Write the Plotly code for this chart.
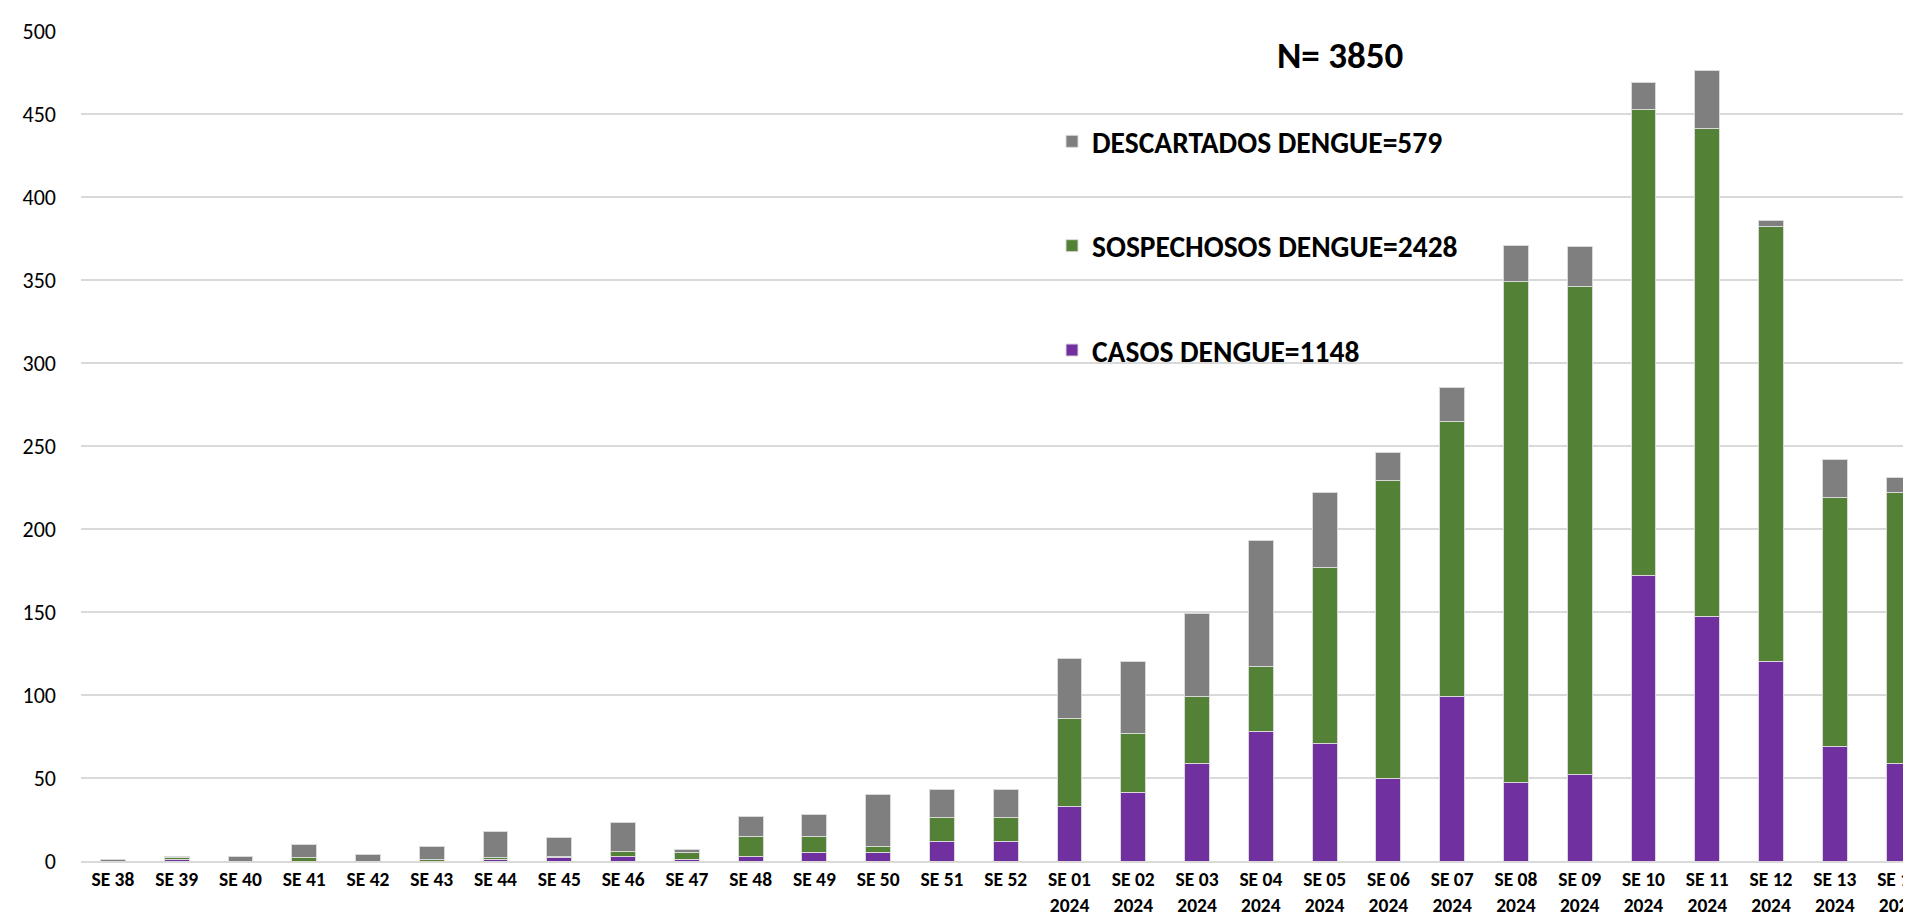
import plotly.graph_objects as go

semanas = ["SE 38", "SE 39", "SE 40", "SE 41", "SE 42", "SE 43", "SE 44", "SE 45",
           "SE 46", "SE 47", "SE 48", "SE 49", "SE 50", "SE 51", "SE 52",
           "SE 01<br>2024", "SE 02<br>2024", "SE 03<br>2024", "SE 04<br>2024",
           "SE 05<br>2024", "SE 06<br>2024", "SE 07<br>2024", "SE 08<br>2024",
           "SE 09<br>2024", "SE 10<br>2024", "SE 11<br>2024", "SE 12<br>2024",
           "SE 13<br>2024", "SE 14<br>2024"]

casos = [0, 1, 0, 0, 0, 0, 1, 2, 3, 1, 3, 5, 5, 12, 12,
         33, 41, 59, 78, 71, 50, 99, 47, 52, 172, 147, 120, 69, 59]
sospechosos = [0, 1, 0, 2, 0, 1, 1, 1, 3, 4, 12, 10, 4, 14, 14,
               53, 36, 40, 39, 106, 179, 166, 302, 294, 281, 294, 262, 150, 163]
descartados = [1, 1, 3, 8, 4, 8, 16, 11, 17, 2, 12, 13, 31, 17, 17,
               36, 43, 50, 76, 45, 17, 20, 22, 24, 16, 35, 4, 23, 9]

series_names = ["CASOS DENGUE=1148", "SOSPECHOSOS DENGUE=2428", "DESCARTADOS DENGUE=579"]
series_colors = ["#7030A0", "#538135", "#7F7F7F"]
legend_ranks = [3, 2, 1]
total_label = "N= 3850"

FONT = "Calibri, Carlito, Lato, sans-serif"

# plot area in pixels
L, R, T, B = 73, 0, 23, 61
PW, PH = 1911 - L - R, 914 - T - B

fig = go.Figure()
for i, (name, vals, col) in enumerate(zip(series_names, [casos, sospechosos, descartados], series_colors)):
    fig.add_trace(go.Bar(
        x=semanas, y=vals, name=name, legendgroup=f"g{i}", legendrank=legend_ranks[i],
        marker=dict(color=col, line=dict(color="#D9D9D9", width=1)),
    ))

fig.update_layout(
    width=1911, height=914,
    barmode="stack", bargap=0.61,
    paper_bgcolor="white", plot_bgcolor="white",
    margin=dict(l=L, r=R, t=T, b=B, autoexpand=False),
    font=dict(family=FONT, color="black"),
    showlegend=True,
    legend=dict(
        x=(1044 - L) / PW, y=0.898, xanchor="left", yanchor="top",
        traceorder="grouped", tracegroupgap=63,
        font=dict(family=FONT, size=29.5, color="black", weight="bold"),
        bgcolor="rgba(0,0,0,0)", itemwidth=30,
    ),
    annotations=[dict(
        text=f"<b>{total_label}</b>", xref="paper", yref="paper",
        x=(1332 - L) / PW, y=(T + PH - 47) / PH, xanchor="center", yanchor="middle",
        showarrow=False, font=dict(family=FONT, size=37, color="black"),
    )],
)

fig.update_xaxes(
    type="category", range=[-0.5, 28.32], automargin=False,
    showline=True, linecolor="#D9D9D9", linewidth=2,
    ticks="", ticklabelstandoff=0,
    tickfont=dict(family=FONT, size=19.5, color="black", weight="bold"),
    tickangle=0,
)
fig.update_yaxes(
    range=[0, 500], dtick=50, automargin=False,
    showgrid=True, gridcolor="#D9D9D9", gridwidth=2,
    zeroline=False, showline=False, ticks="",
    ticklabelstandoff=24,
    tickfont=dict(family=FONT, size=22, color="black"),
)

fig.write_html("out.html")
